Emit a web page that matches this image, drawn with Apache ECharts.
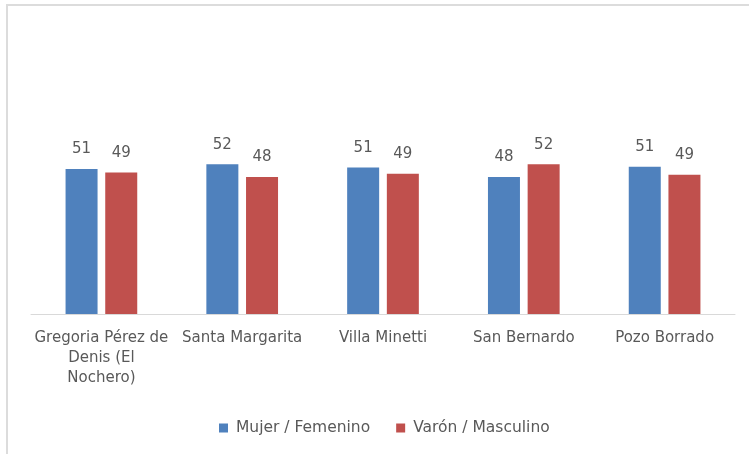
<!DOCTYPE html>
<html>
<head>
<meta charset="utf-8">
<script src="https://cdn.jsdelivr.net/npm/echarts@6/dist/echarts.min.js"></script>
<style>
  html, body { margin: 0; padding: 0; background: #fff; }
  #chart { width: 749px; height: 454px; }
</style>
</head>
<body>
<div id="chart"></div>
<script>
// localidades (con saltos de línea como en el gráfico original)
var localidades = ['Gregoria Pérez de\nDenis (El\nNochero)', 'Santa Margarita', 'Villa Minetti', 'San Bernardo', 'Pozo Borrado'];
var mujeres = [50.6, 52.2, 51.1, 47.8, 51.4];
var varones = [49.4, 47.8, 48.9, 52.2, 48.6];
var nombresSeries = ['Mujer / Femenino', 'Varón / Masculino'];

var myChart = echarts.init(document.getElementById('chart'));

var fuente = 'DejaVu Sans';
var gris = '#595959';

var etiqueta = {
    show: true,
    position: 'top',
    distance: 12,
    color: gris,
    fontFamily: fuente,
    fontSize: 15,
    formatter: function (p) { return Math.round(p.value); }
};

var option = {
    animation: false,
    backgroundColor: '#fff',
    color: ['#4F81BD', '#C0504D'],
    graphic: [{
        type: 'polyline',
        shape: { points: [[7, 454], [7, 5], [749, 5]] },
        style: { stroke: '#dcdcdc', lineWidth: 2, fill: null },
        silent: true
    }],
    grid: {
        left: 31,
        right: 14,
        top: 142,
        bottom: 140
    },
    legend: {
        data: nombresSeries,
        left: 214,
        top: 415,
        icon: 'rect',
        itemWidth: 9,
        itemHeight: 9,
        itemGap: 26,
        textStyle: {
            color: gris,
            fontFamily: fuente,
            fontSize: 15.5,
            padding: [0, 0, 0, 3]
        }
    },
    xAxis: {
        type: 'category',
        data: localidades,
        axisLine: { lineStyle: { color: '#d9d9d9', width: 1 } },
        axisTick: { show: false },
        axisLabel: {
            interval: 0,
            margin: 14,
            color: gris,
            fontFamily: fuente,
            fontSize: 15,
            lineHeight: 20
        }
    },
    yAxis: {
        type: 'value',
        min: 0,
        max: 60,
        show: false,
        splitLine: { show: false }
    },
    series: [{
        name: nombresSeries[0],
        type: 'bar',
        barWidth: 32,
        barGap: '24%',
        label: etiqueta,
        data: mujeres
    }, {
        name: nombresSeries[1],
        type: 'bar',
        barWidth: 32,
        label: etiqueta,
        data: varones
    }]
};

myChart.setOption(option);
</script>
</body>
</html>
